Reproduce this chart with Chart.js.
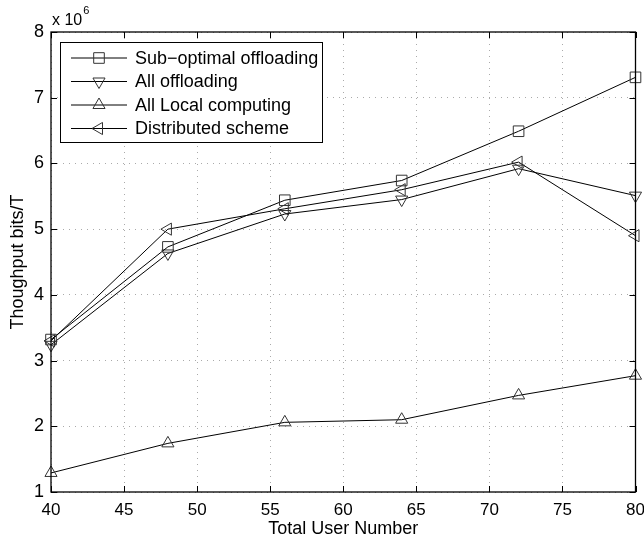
<!DOCTYPE html>
<html lang="en">
<head>
  <meta charset="UTF-8">
  <title>Throughput vs total user number</title>
  <script src="https://cdn.jsdelivr.net/npm/chart.js"></script>
  <style>
    html, body { margin: 0; padding: 0; background: #fff; }
  </style>
</head>
<body>
  <canvas id="thrChart" width="644" height="541"></canvas>

  <script>
    // values (units of 10^6 bits/T)
    const users = [40, 48, 56, 64, 72, 80];
    const seriesNames = ['Sub\u2212optimal offloading', 'All offloading', 'All Local computing', 'Distributed scheme'];
    const subOptimal = [3.32, 4.73, 5.44, 5.74, 6.49, 7.31];
    const allOffloading = [3.24, 4.63, 5.23, 5.45, 5.92, 5.51];
    const allLocal = [1.29, 1.74, 2.06, 2.10, 2.47, 2.77];
    const distributed = [3.30, 5.00, 5.31, 5.60, 6.02, 4.90];
    const xTicks = [40, 45, 50, 55, 60, 65, 70, 75, 80];
    const yTicks = [1, 2, 3, 4, 5, 6, 7, 8];

    const FONT = '"Liberation Sans", Arial, Helvetica, sans-serif';
    const markers = [
      { style: 'rect', rotation: 0, radius: 7.5 },
      { style: 'triangle', rotation: 180, radius: 7 },
      { style: 'triangle', rotation: 0, radius: 7 },
      { style: 'triangle', rotation: 270, radius: 7 }
    ];
    const values = [subOptimal, allOffloading, allLocal, distributed];

    function makeSet(i) {
      return {
        label: seriesNames[i],
        data: users.map((u, k) => ({ x: u, y: values[i][k] })),
        borderColor: '#000',
        borderWidth: 1,
        pointStyle: markers[i].style,
        rotation: markers[i].rotation,
        pointRadius: markers[i].radius,
        pointBorderColor: '#333',
        pointBorderWidth: 1,
        pointBackgroundColor: 'rgba(0,0,0,0)',
        clip: false,
        tension: 0
      };
    }

    // box, inner ticks, exponent label and legend
    const framePlugin = {
      id: 'frame',
      afterDraw(chart) {
        const ctx = chart.ctx;
        const a = chart.chartArea;
        const xs = chart.scales.x, ys = chart.scales.y;
        ctx.save();
        ctx.strokeStyle = '#000';
        ctx.lineWidth = 1;
        ctx.beginPath();
        xTicks.forEach(v => {
          const px = Math.round(xs.getPixelForValue(v)) + 0.5;
          ctx.moveTo(px, a.bottom); ctx.lineTo(px, a.bottom - 6);
          ctx.moveTo(px, a.top); ctx.lineTo(px, a.top + 6);
        });
        yTicks.forEach(v => {
          const py = Math.round(ys.getPixelForValue(v)) + 0.5;
          ctx.moveTo(a.left, py); ctx.lineTo(a.left + 6, py);
          ctx.moveTo(a.right, py); ctx.lineTo(a.right - 6, py);
        });
        ctx.stroke();
        ctx.lineWidth = 1.3;
        ctx.strokeRect(a.left, a.top, a.right - a.left, a.bottom - a.top);

        // x 10^6
        ctx.fillStyle = '#000';
        ctx.font = '16px ' + FONT;
        ctx.textBaseline = 'alphabetic';
        ctx.textAlign = 'left';
        ctx.fillText('x 10', a.left + 1, 25);
        const w = ctx.measureText('x 10').width;
        ctx.font = '11px ' + FONT;
        ctx.fillText('6', a.left + 2 + w, 14);

        // legend
        const bx = 60, by = 42, bw = 262, bh = 100;
        ctx.fillStyle = '#fff';
        ctx.fillRect(bx, by, bw, bh);
        ctx.lineWidth = 1;
        ctx.strokeStyle = '#000';
        ctx.strokeRect(bx + 0.5, by + 0.5, bw, bh);
        ctx.font = '18px ' + FONT;
        ctx.textBaseline = 'middle';
        seriesNames.forEach((name, i) => {
          const y = 58 + i * 23.5;
          ctx.strokeStyle = '#000';
          ctx.lineWidth = 1;
          ctx.beginPath();
          ctx.moveTo(71, y); ctx.lineTo(127, y);
          ctx.stroke();
          ctx.strokeStyle = '#333';
          ctx.fillStyle = 'rgba(0,0,0,0)';
          Chart.helpers.drawPoint(ctx, {
            pointStyle: markers[i].style,
            rotation: markers[i].rotation,
            radius: markers[i].radius,
            borderWidth: 1
          }, 99, y);
          ctx.fillStyle = '#000';
          ctx.fillText(name, 135, y + 1);
        });
        ctx.restore();
      }
    };

    const gridStyle = { color: '#aaa', lineWidth: 1, drawTicks: false };

    new Chart(document.getElementById('thrChart'), {
      type: 'line',
      data: { datasets: [0, 1, 2, 3].map(makeSet) },
      options: {
        responsive: false,
        animation: false,
        layout: { padding: { top: 32, right: 8, left: 0, bottom: 0 } },
        plugins: { legend: { display: false }, tooltip: { enabled: false } },
        scales: {
          x: {
            type: 'linear',
            min: 40, max: 80,
            afterBuildTicks: s => { s.ticks = xTicks.map(v => ({ value: v })); },
            afterFit: s => { s.height = 49; s.paddingLeft = 0; s.paddingRight = 0; },
            grid: gridStyle,
            border: { display: false, dash: [1, 5] },
            ticks: { color: '#000', font: { family: FONT, size: 17 }, padding: 8, maxRotation: 0 },
            title: { display: true, text: 'Total User Number', color: '#000', font: { family: FONT, size: 18 }, padding: { top: 0, bottom: 1 } }
          },
          y: {
            type: 'linear',
            min: 1, max: 8,
            afterBuildTicks: s => { s.ticks = yTicks.map(v => ({ value: v })); },
            afterFit: s => { s.width = 51; s.paddingTop = 0; s.paddingBottom = 0; },
            grid: gridStyle,
            border: { display: false, dash: [1, 5] },
            ticks: { color: '#000', font: { family: FONT, size: 18 }, padding: 7 },
            title: { display: true, text: 'Thoughput bits/T', color: '#000', font: { family: FONT, size: 18 }, padding: { top: 7, bottom: 0 } }
          }
        }
      },
      plugins: [framePlugin]
    });
  </script>
</body>
</html>
